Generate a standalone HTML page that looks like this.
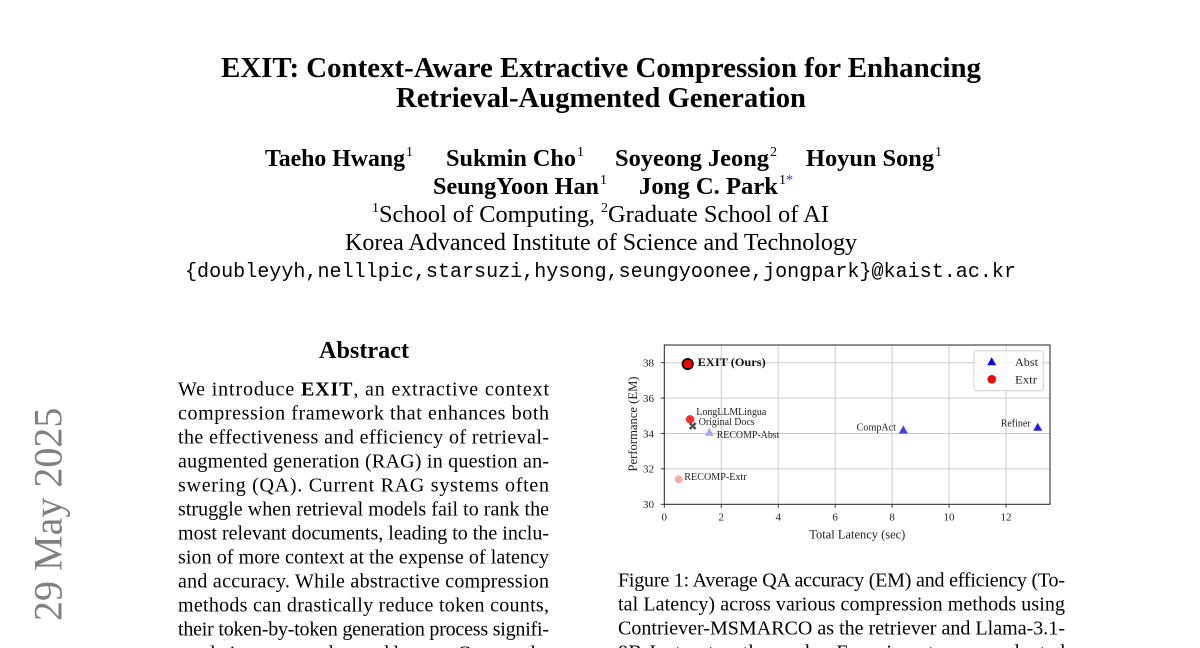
<!DOCTYPE html>
<html><head><meta charset="utf-8">
<style>html,body{margin:0;padding:0;background:#fff;overflow:hidden}svg{display:block}</style>
</head>
<body>
<svg width="1200" height="648" viewBox="0 0 1200 648" xmlns="http://www.w3.org/2000/svg" font-family="'Liberation Serif', 'Times New Roman', serif">
<rect width="1200" height="648" fill="#fff"/>

<!-- arXiv stamp -->
<text transform="translate(61.5,621) rotate(-90)" font-size="40" fill="#808080">29 May 2025</text>
<text transform="translate(61.5,645) rotate(-90)" font-size="40" fill="#808080" text-anchor="end">arXiv:2412.12559v3  [cs.CL]</text>

<!-- Title -->
<text x="221" y="77" font-size="29" font-weight="bold" textLength="760" lengthAdjust="spacingAndGlyphs">EXIT: Context-Aware Extractive Compression for Enhancing</text>
<text x="396" y="107" font-size="29" font-weight="bold" textLength="410" lengthAdjust="spacingAndGlyphs">Retrieval-Augmented Generation</text>

<!-- Authors -->
<g font-size="24.5" font-weight="bold">
<text x="265" y="166" textLength="140" lengthAdjust="spacingAndGlyphs">Taeho Hwang</text>
<text x="446" y="166" textLength="130" lengthAdjust="spacingAndGlyphs">Sukmin Cho</text>
<text x="615" y="166" textLength="154" lengthAdjust="spacingAndGlyphs">Soyeong Jeong</text>
<text x="806" y="166" textLength="128" lengthAdjust="spacingAndGlyphs">Hoyun Song</text>
<text x="433" y="194" textLength="166" lengthAdjust="spacingAndGlyphs">SeungYoon Han</text>
<text x="639" y="194" textLength="139" lengthAdjust="spacingAndGlyphs">Jong C. Park</text>
</g>
<g font-size="14">
<text x="406" y="156">1</text>
<text x="577" y="156">1</text>
<text x="770" y="156">2</text>
<text x="935" y="156">1</text>
<text x="600" y="184">1</text>
<text x="779" y="184">1</text>
<text x="786" y="184" fill="#3b3bd0">*</text>
</g>

<!-- Affiliations -->
<text x="372" y="212" font-size="14">1</text>
<text x="379" y="222" font-size="24" textLength="216" lengthAdjust="spacingAndGlyphs">School of Computing,</text>
<text x="601" y="212" font-size="14">2</text>
<text x="608" y="222" font-size="24" textLength="221" lengthAdjust="spacingAndGlyphs">Graduate School of AI</text>
<text x="345" y="250" font-size="24" textLength="512" lengthAdjust="spacingAndGlyphs">Korea Advanced Institute of Science and Technology</text>
<text x="185" y="277" font-size="20" font-family="'Liberation Mono', monospace" textLength="831" lengthAdjust="spacingAndGlyphs">{doubleyyh,nelllpic,starsuzi,hysong,seungyoonee,jongpark}@kaist.ac.kr</text>

<!-- Abstract -->
<text x="319" y="358" font-size="24" font-weight="bold" textLength="90" lengthAdjust="spacingAndGlyphs">Abstract</text>
<g font-size="20">
<text x="178" y="395.7" textLength="371" lengthAdjust="spacing">We introduce <tspan font-weight="bold">EXIT</tspan>, an extractive context</text>
<text x="178" y="419.7" textLength="371" lengthAdjust="spacing">compression framework that enhances both</text>
<text x="178" y="443.7" textLength="371" lengthAdjust="spacing">the effectiveness and efficiency of retrieval-</text>
<text x="178" y="467.7" textLength="371" lengthAdjust="spacing">augmented generation (RAG) in question an-</text>
<text x="178" y="491.7" textLength="371" lengthAdjust="spacing">swering (QA). Current RAG systems often</text>
<text x="178" y="515.7" textLength="371" lengthAdjust="spacing">struggle when retrieval models fail to rank the</text>
<text x="178" y="539.7" textLength="371" lengthAdjust="spacing">most relevant documents, leading to the inclu-</text>
<text x="178" y="563.7" textLength="371" lengthAdjust="spacing">sion of more context at the expense of latency</text>
<text x="178" y="587.7" textLength="371" lengthAdjust="spacing">and accuracy. While abstractive compression</text>
<text x="178" y="611.7" textLength="371" lengthAdjust="spacing">methods can drastically reduce token counts,</text>
<text x="178" y="635.7" textLength="371" lengthAdjust="spacing">their token-by-token generation process signifi-</text>
<text x="178" y="659.7" textLength="371" lengthAdjust="spacing">cantly increases end-to-end latency. Conversely,</text>
</g>

<!-- Caption -->
<g font-size="20">
<text x="618" y="586.5" textLength="447" lengthAdjust="spacing">Figure 1: Average QA accuracy (EM) and efficiency (To-</text>
<text x="618" y="610.5" textLength="447" lengthAdjust="spacing">tal Latency) across various compression methods using</text>
<text x="618" y="634.5" textLength="447" lengthAdjust="spacing">Contriever-MSMARCO as the retriever and Llama-3.1-</text>
<text x="618" y="658.5" textLength="447" lengthAdjust="spacing">8B-Instruct as the reader. Experiments are conducted</text>
</g>

<!-- Chart -->
<g>
  <!-- grid -->
  <g stroke="#cccccc" stroke-width="1">
    <line x1="721.25" y1="345" x2="721.25" y2="504.3"/>
    <line x1="778.2" y1="345" x2="778.2" y2="504.3"/>
    <line x1="835.15" y1="345" x2="835.15" y2="504.3"/>
    <line x1="892.1" y1="345" x2="892.1" y2="504.3"/>
    <line x1="949.05" y1="345" x2="949.05" y2="504.3"/>
    <line x1="1006" y1="345" x2="1006" y2="504.3"/>
    <line x1="664.3" y1="362.7" x2="1050" y2="362.7"/>
    <line x1="664.3" y1="398.1" x2="1050" y2="398.1"/>
    <line x1="664.3" y1="433.5" x2="1050" y2="433.5"/>
    <line x1="664.3" y1="468.9" x2="1050" y2="468.9"/>
  </g>
  <!-- frame -->
  <rect x="664.3" y="345" width="385.7" height="159.3" fill="none" stroke="#222" stroke-width="1"/>
  <!-- ticks -->
  <g stroke="#222" stroke-width="0.9">
    <line x1="664.3" y1="504.3" x2="664.3" y2="507.8"/>
    <line x1="721.25" y1="504.3" x2="721.25" y2="507.8"/>
    <line x1="778.2" y1="504.3" x2="778.2" y2="507.8"/>
    <line x1="835.15" y1="504.3" x2="835.15" y2="507.8"/>
    <line x1="892.1" y1="504.3" x2="892.1" y2="507.8"/>
    <line x1="949.05" y1="504.3" x2="949.05" y2="507.8"/>
    <line x1="1006" y1="504.3" x2="1006" y2="507.8"/>
    <line x1="660.8" y1="504.3" x2="664.3" y2="504.3"/>
    <line x1="660.8" y1="468.9" x2="664.3" y2="468.9"/>
    <line x1="660.8" y1="433.5" x2="664.3" y2="433.5"/>
    <line x1="660.8" y1="398.1" x2="664.3" y2="398.1"/>
    <line x1="660.8" y1="362.7" x2="664.3" y2="362.7"/>
  </g>
  <!-- tick labels -->
  <g font-size="11" fill="#222" text-anchor="middle">
    <text x="664.3" y="520.5">0</text>
    <text x="721.25" y="520.5">2</text>
    <text x="778.2" y="520.5">4</text>
    <text x="835.15" y="520.5">6</text>
    <text x="892.1" y="520.5">8</text>
    <text x="949.05" y="520.5">10</text>
    <text x="1006" y="520.5">12</text>
  </g>
  <g font-size="11" fill="#222" text-anchor="end">
    <text x="654" y="508.1">30</text>
    <text x="654" y="472.7">32</text>
    <text x="654" y="437.3">34</text>
    <text x="654" y="401.9">36</text>
    <text x="654" y="366.5">38</text>
  </g>
  <!-- axis labels -->
  <text x="857.3" y="538.5" font-size="12.5" fill="#222" text-anchor="middle" textLength="96" lengthAdjust="spacingAndGlyphs">Total Latency (sec)</text>
  <text transform="translate(636.8,424) rotate(-90)" font-size="12.5" fill="#222" text-anchor="middle" textLength="95" lengthAdjust="spacingAndGlyphs">Performance (EM)</text>

  <!-- points -->
  <circle cx="678.7" cy="479.3" r="4" fill="#ffabab"/>
  <polygon points="709.3,427.8 713.8,435.8 704.8,435.8" fill="#a6a6ff"/>
  <g stroke="#555" stroke-width="2.6" stroke-linecap="butt">
    <line x1="689.7" y1="423" x2="695.7" y2="429"/>
    <line x1="695.7" y1="423" x2="689.7" y2="429"/>
  </g>
  <circle cx="690" cy="419.3" r="4.2" fill="#ff2e2e"/>
  <polygon points="903.3,425.5 907.8,433.5 898.8,433.5" fill="#3c3cff"/>
  <polygon points="1037.7,422.8 1042.2,430.8 1033.2,430.8" fill="#1f1fff"/>
  <circle cx="687.7" cy="364" r="5.2" fill="#ff0000" stroke="#000" stroke-width="1.7"/>

  <!-- annotations -->
  <text x="697.7" y="366" font-size="12" font-weight="bold" fill="#111" textLength="68" lengthAdjust="spacingAndGlyphs">EXIT (Ours)</text>
  <g font-size="10" fill="#222">
    <text x="696.3" y="415" textLength="70" lengthAdjust="spacingAndGlyphs">LongLLMLingua</text>
    <text x="698.7" y="425" textLength="56" lengthAdjust="spacingAndGlyphs">Original Docs</text>
    <text x="716.7" y="438" textLength="62.7" lengthAdjust="spacingAndGlyphs">RECOMP-Abst</text>
    <text x="856.7" y="430.5" textLength="39.3" lengthAdjust="spacingAndGlyphs">CompAct</text>
    <text x="1000.7" y="426.5" textLength="30" lengthAdjust="spacingAndGlyphs">Refiner</text>
    <text x="684.3" y="480" textLength="62.3" lengthAdjust="spacingAndGlyphs">RECOMP-Extr</text>
  </g>

  <!-- legend -->
  <rect x="974" y="350.7" width="69.3" height="40" rx="2.5" fill="#fff" fill-opacity="0.8" stroke="#d0d0d0" stroke-width="1"/>
  <polygon points="991.7,357.2 996.2,365.2 987.2,365.2" fill="#0000ff"/>
  <circle cx="991.7" cy="379.3" r="4.3" fill="#ff0000"/>
  <g font-size="12" fill="#222">
    <text x="1015" y="366" textLength="23" lengthAdjust="spacingAndGlyphs">Abst</text>
    <text x="1015" y="383.5" textLength="22" lengthAdjust="spacingAndGlyphs">Extr</text>
  </g>
</g>
</svg>
</body>
</html>
